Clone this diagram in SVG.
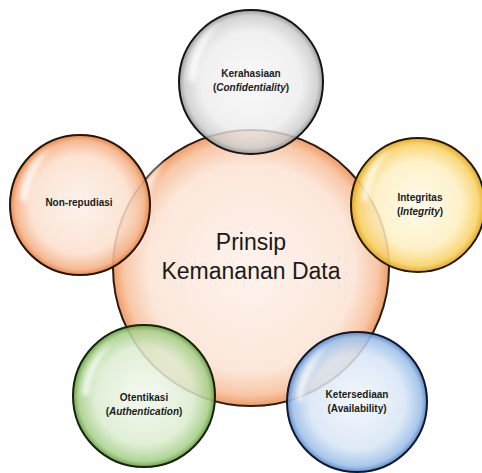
<svg xmlns="http://www.w3.org/2000/svg" width="482" height="473" viewBox="0 0 482 473">
<style>
.ring{stroke-width:2}
.lbl{font-family:"Liberation Sans",Arial,sans-serif;font-size:10px;font-weight:bold;fill:#1a1a1a;text-anchor:middle}
.it{font-style:italic}
.main{font-family:"Liberation Sans",Arial,sans-serif;font-size:23px;fill:#1a1a1a;text-anchor:middle}
.hl{fill:#ffffff;opacity:0.8;filter:url(#blur)}
</style>
<defs>
<filter id="blur" x="-50%" y="-50%" width="200%" height="200%"><feGaussianBlur stdDeviation="2.5"/></filter>
<radialGradient id="gPeach" cx="0.5" cy="0.5" r="0.5">
<stop offset="0" stop-color="#fef3ed"/><stop offset="0.75" stop-color="#fce7da"/><stop offset="0.92" stop-color="#f8c7a6"/><stop offset="1" stop-color="#ef9c66"/>
</radialGradient>
<radialGradient id="gOrange" cx="0.5" cy="0.5" r="0.5">
<stop offset="0" stop-color="#fdf0e8" stop-opacity="0.85"/><stop offset="0.7" stop-color="#fbdfcc" stop-opacity="0.85"/><stop offset="0.92" stop-color="#f4b187" stop-opacity="0.9"/><stop offset="1" stop-color="#e6823f" stop-opacity="0.95"/>
</radialGradient>
<radialGradient id="gGray" cx="0.5" cy="0.5" r="0.5">
<stop offset="0" stop-color="#f8f8f8" stop-opacity="0.8"/><stop offset="0.7" stop-color="#ececec" stop-opacity="0.8"/><stop offset="0.92" stop-color="#cccccc" stop-opacity="0.85"/><stop offset="1" stop-color="#929292" stop-opacity="0.9"/>
</radialGradient>
<radialGradient id="gYellow" cx="0.5" cy="0.5" r="0.5">
<stop offset="0" stop-color="#fffaea" stop-opacity="0.85"/><stop offset="0.65" stop-color="#fdefbf" stop-opacity="0.85"/><stop offset="0.9" stop-color="#f8d36a" stop-opacity="0.9"/><stop offset="1" stop-color="#e5a51a" stop-opacity="0.95"/>
</radialGradient>
<radialGradient id="gGreen" cx="0.5" cy="0.5" r="0.5">
<stop offset="0" stop-color="#f3f9ee" stop-opacity="0.85"/><stop offset="0.68" stop-color="#dcecd0" stop-opacity="0.85"/><stop offset="0.92" stop-color="#a9d08c" stop-opacity="0.9"/><stop offset="1" stop-color="#679f40" stop-opacity="0.95"/>
</radialGradient>
<radialGradient id="gBlue" cx="0.5" cy="0.5" r="0.5">
<stop offset="0" stop-color="#f2f6fc" stop-opacity="0.85"/><stop offset="0.68" stop-color="#d7e5f5" stop-opacity="0.85"/><stop offset="0.92" stop-color="#9fc0e8" stop-opacity="0.9"/><stop offset="1" stop-color="#5888cc" stop-opacity="0.95"/>
</radialGradient>
</defs>
<g id="center">
<circle class="ring" cx="251" cy="268" r="138" fill="url(#gPeach)" stroke="#2a1c14"/>
<path class="hl" d="M130 250 Q128 190 165 160 Q140 200 138 250 Z"/>
<text class="main" x="251" y="250">Prinsip</text>
<text class="main" x="251" y="279">Kemananan Data</text>
</g>
<g id="kerahasiaan">
<circle class="ring" cx="251" cy="82" r="72" fill="url(#gGray)" stroke="#141414"/>
<path class="hl" d="M188 80 Q190 40 220 22 Q198 50 195 82 Z"/>
<text class="lbl" x="251" y="77">Kerahasiaan</text>
<text class="lbl" x="251" y="91">(<tspan class="it">Confidentiality</tspan>)</text>
</g>
<g id="integritas">
<circle class="ring" cx="418" cy="205" r="67" fill="url(#gYellow)" stroke="#1f190a"/>
<path class="hl" d="M362 200 Q364 165 390 148 Q370 175 368 202 Z"/>
<text class="lbl" x="420" y="201">Integritas</text>
<text class="lbl" x="420" y="215">(<tspan class="it">Integrity</tspan>)</text>
</g>
<g id="non-repudiasi">
<circle class="ring" cx="80" cy="205" r="70" fill="url(#gOrange)" stroke="#24140a"/>
<path class="hl" d="M20 200 Q22 165 50 148 Q30 175 27 202 Z"/>
<text class="lbl" x="79" y="206">Non-repudiasi</text>
</g>
<g id="otentikasi">
<circle class="ring" cx="144" cy="396" r="71" fill="url(#gGreen)" stroke="#172012"/>
<path class="hl" d="M82 395 Q84 360 112 342 Q90 370 88 396 Z"/>
<text class="lbl" x="144" y="401">Otentikasi</text>
<text class="lbl" x="144" y="415">(<tspan class="it">Authentication</tspan>)</text>
</g>
<g id="ketersediaan">
<circle class="ring" cx="357" cy="402" r="70" fill="url(#gBlue)" stroke="#121828"/>
<path class="hl" d="M296 400 Q298 365 326 347 Q305 375 302 402 Z"/>
<text class="lbl" x="357" y="398">Ketersediaan</text>
<text class="lbl" x="357" y="412">(Availability)</text>
</g>
<g id="connectors"/>
</svg>
